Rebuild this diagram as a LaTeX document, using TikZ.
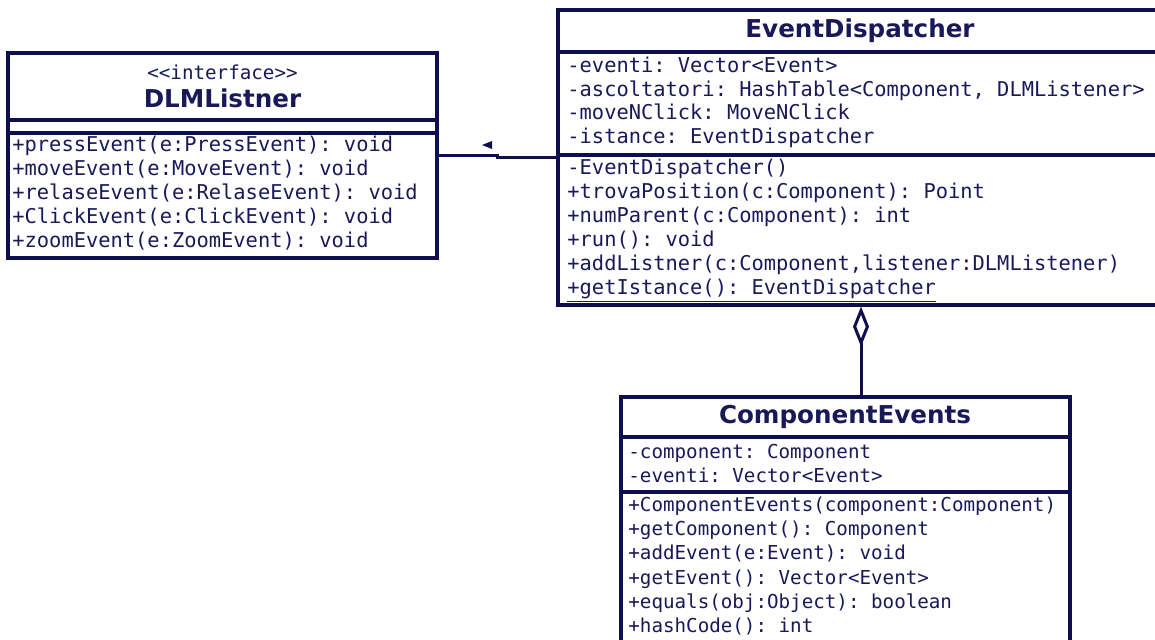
\documentclass[tikz,border=0pt]{standalone}
\usepackage{fontspec}
\setmonofont{DejaVu Sans Mono}
\newfontfamily\titlefont{DejaVu Sans}
\usetikzlibrary{arrows.meta}
\definecolor{umlline}{RGB}{15,15,80}
\definecolor{umltext}{RGB}{25,25,90}
\begin{document}
\begin{tikzpicture}[x=0.5pt,y=-0.5pt,
  classbox/.style={draw=umlline, line width=1.6pt, fill=white, inner sep=0pt, rectangle},
  compsep/.style={draw=umlline, line width=1.6pt},
  member/.style={anchor=mid west, inner sep=0pt, text=umltext, font=\fontsize{10.2}{12}\selectfont\ttfamily},
  smallmember/.style={member, font=\fontsize{9.6}{12}\selectfont\ttfamily},
  stereo/.style={inner sep=0pt, text=umltext, font=\fontsize{9.6}{11}\selectfont\ttfamily},
  classtitle/.style={inner sep=0pt, text=umltext, font=\fontsize{12.3}{14}\selectfont\titlefont\bfseries},
  conn/.style={draw=umlline, line width=1.5pt}
]
\useasboundingbox (0,0) rectangle (1155,639);
\fill[white] (0,0) rectangle (1155,639);
\clip (0,0) rectangle (1155,639);

% ---------- DLMListner interface ----------
\node[classbox, minimum width=214.5pt, minimum height=102.5pt] (dlm) at (222.5,155.5) {};
\draw[compsep] (dlm.west |- 0,120) -- (dlm.east |- 0,120);
\draw[compsep] (dlm.west |- 0,133) -- (dlm.east |- 0,133);
\node[stereo] (dlmst) at (222.5,72) {<{}<interface>{}>};
\node[classtitle] (dlmt) at (222.5,98) {DLMListner};
\node[member] (d1) at (12,147) {+pressEvent(e:PressEvent): void};
\node[member] (d2) at (12,171) {+moveEvent(e:MoveEvent): void};
\node[member] (d3) at (12,195) {+relaseEvent(e:RelaseEvent): void};
\node[member] (d4) at (12,219) {+ClickEvent(e:ClickEvent): void};
\node[member] (d5) at (12,243) {+zoomEvent(e:ZoomEvent): void};

% ---------- EventDispatcher ----------
\node[classbox, minimum width=303.5pt, minimum height=147.5pt] (ed) at (861.5,157.5) {};
\draw[compsep] (ed.west |- 0,52) -- (ed.east |- 0,52);
\draw[compsep] (ed.west |- 0,155) -- (ed.east |- 0,155);
\node[classtitle] (edt) at (860,31) {EventDispatcher};
\node[member] (ea1) at (567,68) {-eventi: Vector<Event>};
\node[member] (ea2) at (567,92) {-ascoltatori: HashTable<Component, DLMListener>};
\node[member] (ea3) at (567,115.5) {-moveNClick: MoveNClick};
\node[member] (ea4) at (567,139) {-istance: EventDispatcher};
\node[member] (em1) at (567,170) {-EventDispatcher()};
\node[member] (em2) at (567,194) {+trovaPosition(c:Component): Point};
\node[member] (em3) at (567,218) {+numParent(c:Component): int};
\node[member] (em4) at (567,242) {+run(): void};
\node[member] (em5) at (567,266) {+addListner(c:Component,listener:DLMListener)};
\node[member] (em6) at (567,290) {\underline{+getIstance(): EventDispatcher}};

% ---------- ComponentEvents ----------
\node[classbox, minimum width=224.5pt, minimum height=129pt] (ce) at (845.5,526) {};
\draw[compsep] (ce.west |- 0,437) -- (ce.east |- 0,437);
\draw[compsep] (ce.west |- 0,492) -- (ce.east |- 0,492);
\node[classtitle] (cet) at (845,417) {ComponentEvents};
\node[smallmember] (ca1) at (628,454) {-component: Component};
\node[smallmember] (ca2) at (628,478) {-eventi: Vector<Event>};
\node[smallmember] (cm1) at (628,507) {+ComponentEvents(component:Component)};
\node[smallmember] (cm2) at (628,531) {+getComponent(): Component};
\node[smallmember] (cm3) at (628,555.5) {+addEvent(e:Event): void};
\node[smallmember] (cm4) at (628,580) {+getEvent(): Vector<Event>};
\node[smallmember] (cm5) at (628,604) {+equals(obj:Object): boolean};
\node[smallmember] (cm6) at (628,628) {+hashCode(): int};

% ---------- association EventDispatcher -> DLMListner ----------
\coordinate (jog) at (497,0);
\draw[conn] (dlm.east) -- (dlm.east -| jog) -- (ed.west -| jog) -- (ed.west);
\fill[umlline] (482,145) -- (492,141) -- (492,149) -- cycle;

% ---------- aggregation ComponentEvents -> EventDispatcher ----------
\coordinate (agg) at (861,0);
\draw[conn, {Diamond[open, length=20pt, width=8pt]}-] (ed.south -| agg) -- (ce.north -| agg);
\end{tikzpicture}
\end{document}
